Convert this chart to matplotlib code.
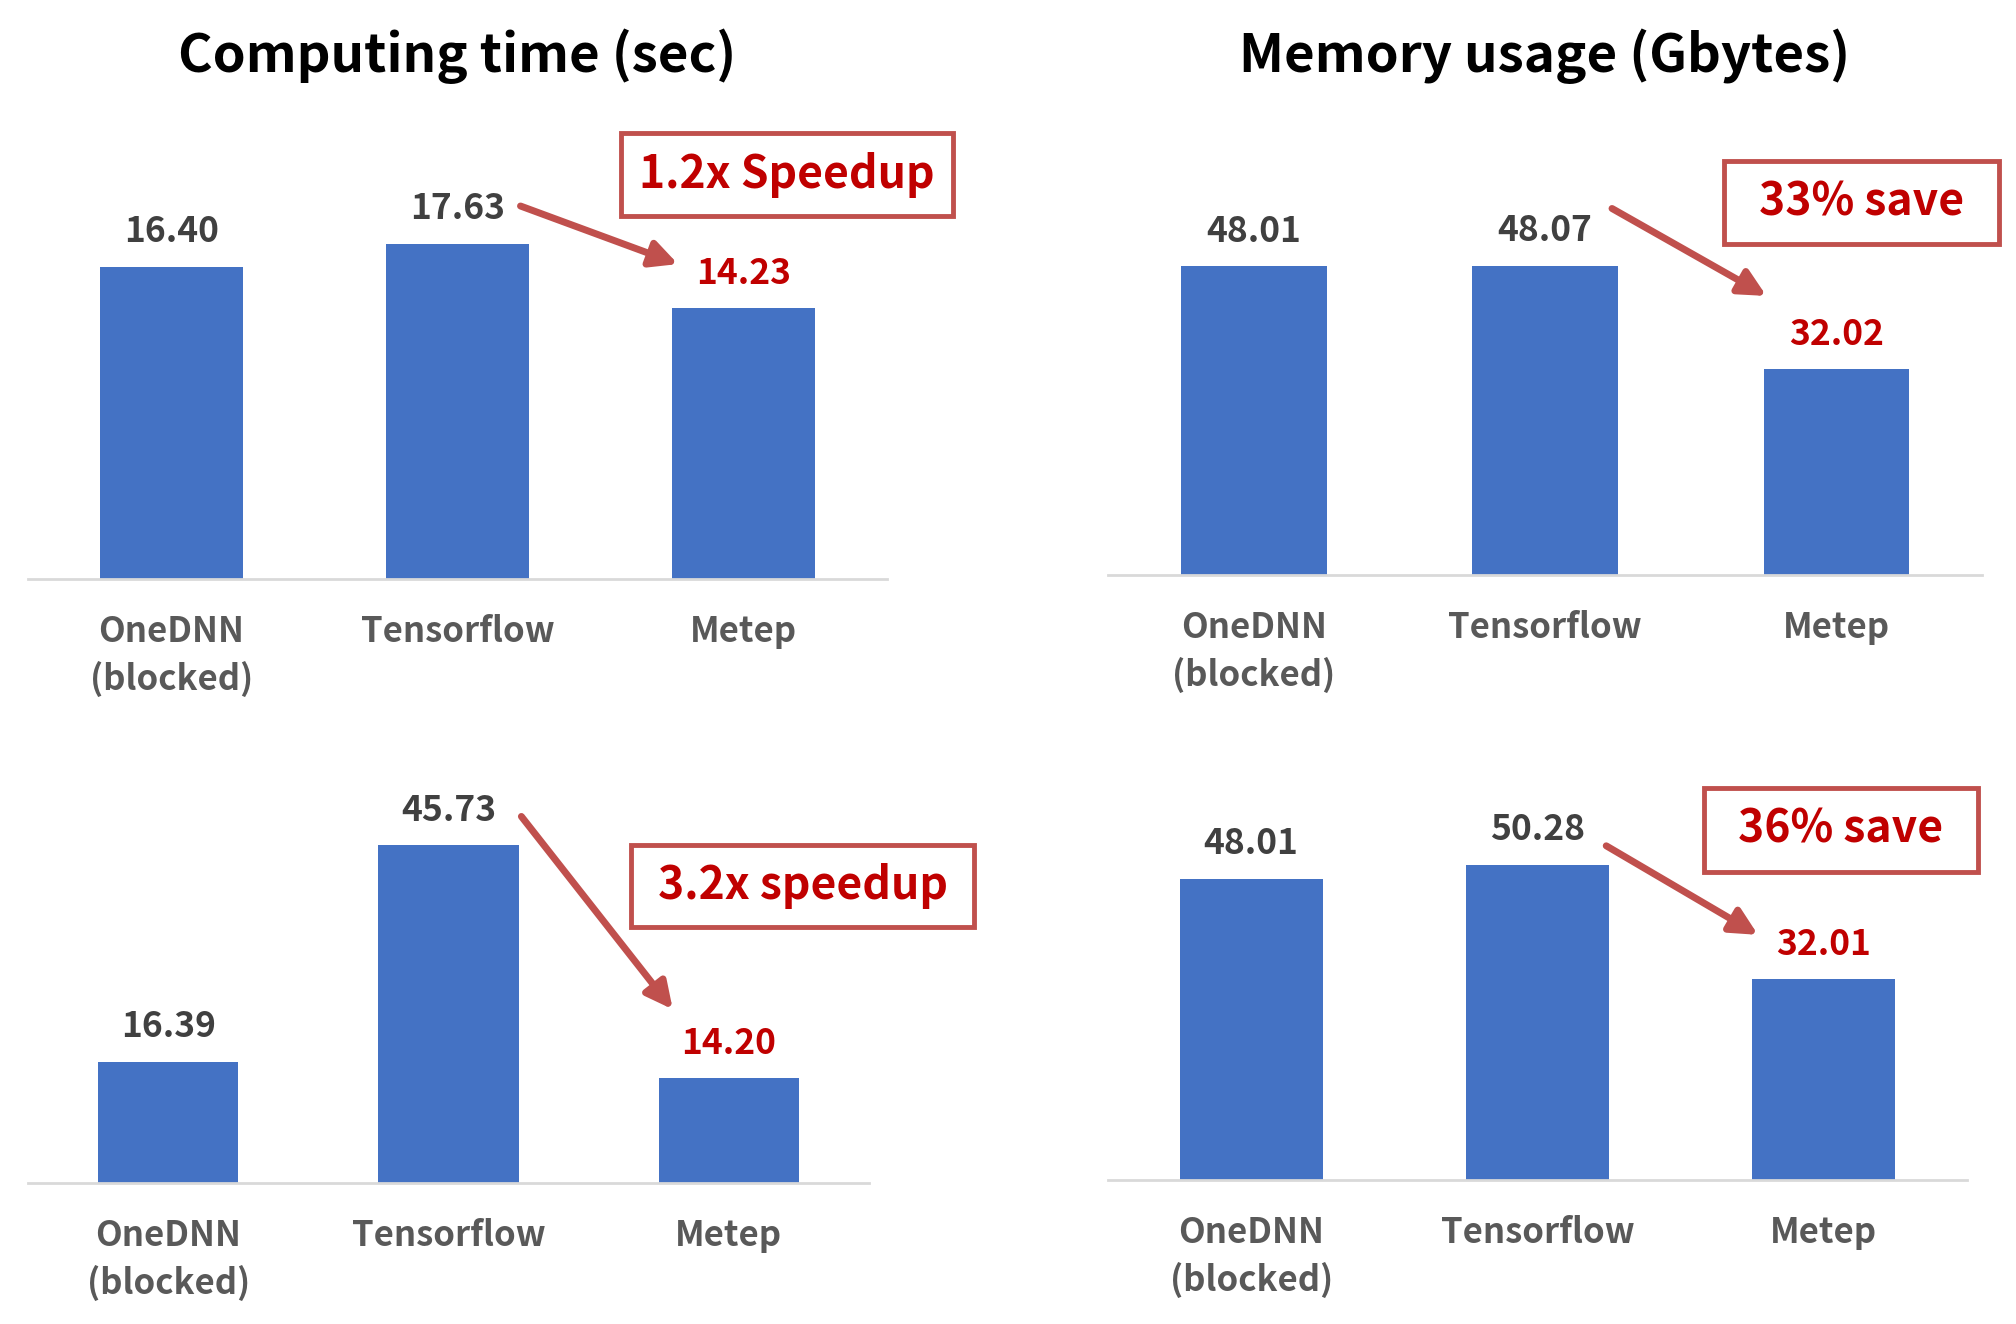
import matplotlib
matplotlib.use("Agg")
import matplotlib.pyplot as plt
from matplotlib.patches import Rectangle

plt.rcParams['font.family'] = ['Noto Sans CJK KR', 'DejaVu Sans']
plt.rcParams['font.weight'] = 'bold'

# data
categories = ["OneDNN\n(blocked)", "Tensorflow", "Metep"]
time_top = [16.40, 17.63, 14.23]
mem_top = [48.01, 48.07, 32.02]
time_bottom = [16.39, 45.73, 14.20]
mem_bottom = [48.01, 50.28, 32.01]
titles = ["Computing time (sec)", "Memory usage (Gbytes)"]
notes = ["1.2x Speedup", "33% save", "3.2x speedup", "36% save"]

BLUE = "#4472C4"
RED = "#C00000"
BOX_RED = "#C0504D"
DARK = "#404040"
GRAY = "#595959"

W, H = 2016, 1324
fig = plt.figure(figsize=(W / 100, H / 100), dpi=100)

# panel layout in pixels: left, width, baseline y (from top), top y, px per unit
panels = [
    (time_top, 28, 859, 579, 129, 19.03),
    (mem_top, 1108, 874, 575, 129, 6.43),
    (time_bottom, 28, 841, 1183, 771, 7.39),
    (mem_bottom, 1108, 859, 1180, 771, 6.27),
]

# annotation geometry in data units: arrow start, arrow end, box (x0, x1, y0, y1)
arrows = [
    ((1.22, 19.6), (1.77, 16.55), (1.57, 2.73, 19.05, 23.45)),
    ((1.23, 57.0), (1.76, 43.4), (1.615, 2.56, 51.4, 64.4)),
    ((1.26, 49.6), (1.80, 23.5), (1.65, 2.876, 34.6, 45.7)),
    ((1.24, 53.3), (1.77, 39.1), (1.58, 2.54, 49.2, 62.5)),
]

for i, (vals, left, width, base, top, scale) in enumerate(panels):
    ax = fig.add_axes([left / W, 1 - base / H, width / W, (base - top) / H])
    x = range(len(vals))
    ax.bar(x, vals, width=0.5, color=BLUE)
    ax.set_xlim(-0.5, 2.5)
    ax.set_ylim(0, (base - top) / scale)
    for s in ["top", "right", "left"]:
        ax.spines[s].set_visible(False)
    ax.spines["bottom"].set_color("#D9D9D9")
    ax.spines["bottom"].set_linewidth(2)
    ax.set_yticks([])
    ax.set_xticks(list(x))
    ax.set_xticklabels(categories, fontsize=25, color=GRAY, fontweight="bold",
                       linespacing=1.42)
    ax.tick_params(axis="x", length=0, pad=25)

    for j, v in enumerate(vals):
        ax.annotate(f"{v:.2f}", xy=(j, v), xytext=(0, 35), textcoords="offset pixels",
                    ha="center", va="center", fontsize=25.5, fontweight="bold",
                    color=RED if j == 2 else DARK)

    if i < 2:
        ax.annotate(titles[i], xy=(0.5, 1), xycoords="axes fraction",
                    xytext=(0, 73), textcoords="offset pixels",
                    ha="center", va="center", fontsize=38, fontweight="bold", color="black")

    (sx, sy), (ex, ey), (bx0, bx1, by0, by1) = arrows[i]
    ax.annotate("", xy=(ex, ey), xytext=(sx, sy),
                arrowprops=dict(arrowstyle="-|>", color=BOX_RED, lw=5,
                                mutation_scale=40, shrinkA=0, shrinkB=0))
    ax.add_patch(Rectangle((bx0, by0), bx1 - bx0, by1 - by0, fill=False,
                           edgecolor=BOX_RED, lw=3.5, clip_on=False))
    ax.text((bx0 + bx1) / 2, (by0 + by1) / 2, notes[i], ha="center", va="center",
            fontsize=32, fontweight="bold", color=RED)

fig.savefig("out.png", dpi=100, facecolor="white")
